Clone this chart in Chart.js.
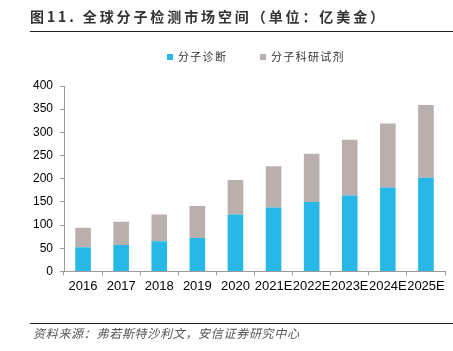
<!DOCTYPE html>
<html><head><meta charset="utf-8">
<script src="https://cdn.jsdelivr.net/npm/chart.js@4"></script>
<style>
html,body{margin:0;padding:0;background:#fff;width:453px;height:351px;overflow:hidden}
#wrap{position:relative;width:453px;height:351px}
canvas{position:absolute;left:0;top:0}
.title{position:absolute;left:30px;top:6px;font-family:"Noto Sans CJK SC","Noto Sans",sans-serif;font-weight:bold;font-size:14px;letter-spacing:2.9px;color:#333;white-space:nowrap}
.line{position:absolute;left:30px;width:423px;height:1px;background:#222}
.foot{position:absolute;left:33px;top:324px;font-family:"Noto Sans CJK SC",sans-serif;font-style:italic;font-size:12px;letter-spacing:0.7px;color:#555;white-space:nowrap}
.leg{position:absolute;top:48px;font-family:"Noto Sans CJK SC",sans-serif;font-size:11px;letter-spacing:1.3px;color:#333;white-space:nowrap}
.sw{display:inline-block;width:6px;height:6px;margin-right:5px;vertical-align:1px}
</style></head>
<body><div id="wrap">
<canvas id="c" width="453" height="351"></canvas>
<div class="title">图11. 全球分子检测市场空间（单位：亿美金）</div>
<div class="line" style="top:31px"></div>
<div class="leg" id="leg1" style="left:167px"></div>
<div class="leg" id="leg2" style="left:260px"></div>
<div class="line" style="top:323px"></div>
<div class="foot">资料来源：弗若斯特沙利文，安信证券研究中心</div>
</div>
<script>
const categories = ["2016","2017","2018","2019","2020","2021E","2022E","2023E","2024E","2025E"];
const diagnostics = [52,57,65,72,123,138,150,164,181,202];
const research = [42,50,58,69,74,89,104,120,138,157];
const seriesNames = ["分子诊断","分子科研试剂"];
const colors = ["#27B8E8","#B9B0AE"];
const yTicks = [0,50,100,150,200,250,300,350,400];

document.getElementById('leg1').innerHTML = '<span class="sw" style="background:'+colors[0]+'"></span>'+seriesNames[0];
document.getElementById('leg2').innerHTML = '<span class="sw" style="background:'+colors[1]+'"></span>'+seriesNames[1];

new Chart(document.getElementById('c'), {
  type:'bar',
  data:{labels:categories,datasets:[
    {label:seriesNames[0],data:diagnostics,backgroundColor:colors[0],barPercentage:0.82,categoryPercentage:0.5},
    {label:seriesNames[1],data:research,backgroundColor:colors[1],barPercentage:0.82,categoryPercentage:0.5}
  ]},
  options:{
    responsive:false,animation:false,
    layout:{padding:{left:0,right:8,top:86,bottom:54}},
    plugins:{legend:{display:false},tooltip:{enabled:false}},
    scales:{
      x:{stacked:true,
        grid:{offset:true,drawOnChartArea:false,drawTicks:true,tickLength:4,color:'#999'},
        border:{display:true,color:'#999'},
        ticks:{color:'#000',font:{family:'"Liberation Sans",Arial,sans-serif',size:13},maxRotation:0,autoSkip:false,padding:3}},
      y:{stacked:true,min:0,max:400,
        afterFit:function(s){s.width=64;},
        afterBuildTicks:function(s){s.ticks=yTicks.map(v=>({value:v}));},
        grid:{drawOnChartArea:false,drawTicks:true,tickLength:4,color:'#999'},
        border:{display:true,color:'#999'},
        ticks:{color:'#000',font:{family:'"Liberation Sans",Arial,sans-serif',size:12},padding:7}}
    }
  }
});
</script>
</body></html>
